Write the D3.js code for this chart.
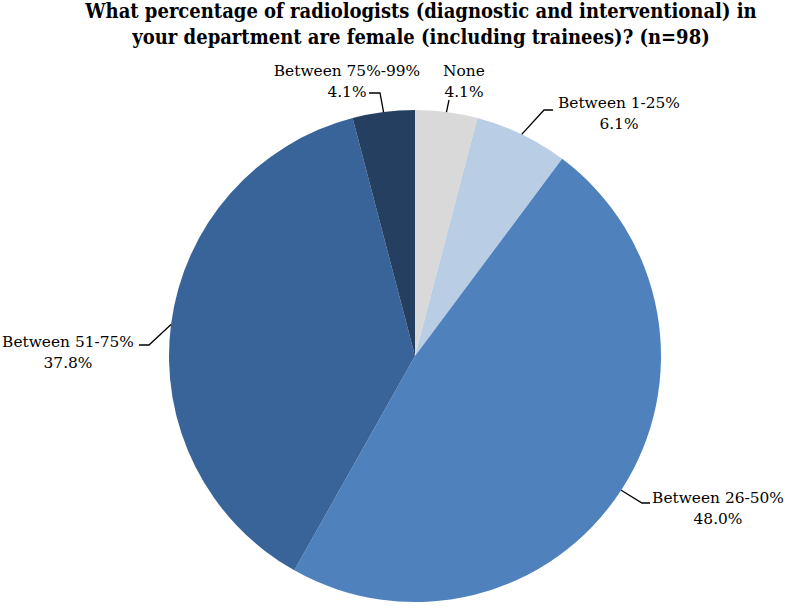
<!DOCTYPE html>
<html><head><meta charset="utf-8">
<script src="https://cdn.jsdelivr.net/npm/d3@7"></script>
<style>body{margin:0;background:#fff}svg{display:block}</style>
</head><body>
<svg id="c" width="787" height="609"></svg>
<script>
const categories = ["None", "Between 1-25%", "Between 26-50%", "Between 51-75%", "Between 75%-99%"];
const counts = [4, 6, 47, 37, 4];
const percentLabels = ["4.1%", "6.1%", "48.0%", "37.8%", "4.1%"];
const colors = ["#d9d9d9", "#b9cde5", "#4f81bd", "#39649a", "#253f61"];
const titleLines = ["What percentage of radiologists (diagnostic and interventional) in",
                    "your department are female (including trainees)? (n=98)"];

const svg = d3.select("#c");
const cx = 415, cy = 356, r = 246;

svg.append("g").selectAll("text").data(titleLines).join("text")
  .attr("x", 421).attr("y", (d, i) => 18 + i * 26)
  .attr("text-anchor", "middle")
  .attr("font-family", "DejaVu Serif Condensed, DejaVu Serif")
  .attr("font-weight", "bold").attr("font-size", 20)
  .attr("fill", "#000").text(d => d);

const pie = d3.pie().value(d => d).sort(null);
const arcs = pie(counts);
const arc = d3.arc().innerRadius(0).outerRadius(r);

const g = svg.append("g").attr("transform", `translate(${cx},${cy})`);
g.selectAll("path").data(arcs).join("path")
  .attr("d", arc).attr("fill", (d, i) => colors[i]);

// label layout: text centre, first baseline, leader bend points
const layout = [
  {tx: 464, ty: 76, pts: [[449, 100]]},
  {tx: 619, ty: 108, pts: [[544, 110], [553, 110]]},
  {tx: 718, ty: 503, pts: [[642, 503], [650, 503]]},
  {tx: 68, ty: 347, pts: [[149, 345], [139, 345]]},
  {tx: 347, ty: 76, pts: [[380, 93], [369, 93]]}
];

const lg = svg.append("g");
arcs.forEach((a, i) => {
  const mid = (a.startAngle + a.endAngle) / 2;
  const p0 = [cx + Math.sin(mid) * r, cy - Math.cos(mid) * r];
  const L = layout[i];
  lg.append("path")
    .attr("d", d3.line()([p0, ...L.pts]))
    .attr("fill", "none").attr("stroke", "#000").attr("stroke-width", 1.3);
  const t = lg.append("text")
    .attr("text-anchor", "middle")
    .attr("font-family", "DejaVu Serif").attr("font-size", 15.4).attr("fill", "#000");
  t.append("tspan").attr("x", L.tx).attr("y", L.ty).text(categories[i]);
  t.append("tspan").attr("x", L.tx).attr("y", L.ty + 20.5).text(percentLabels[i]);
});
</script>
</body></html>
